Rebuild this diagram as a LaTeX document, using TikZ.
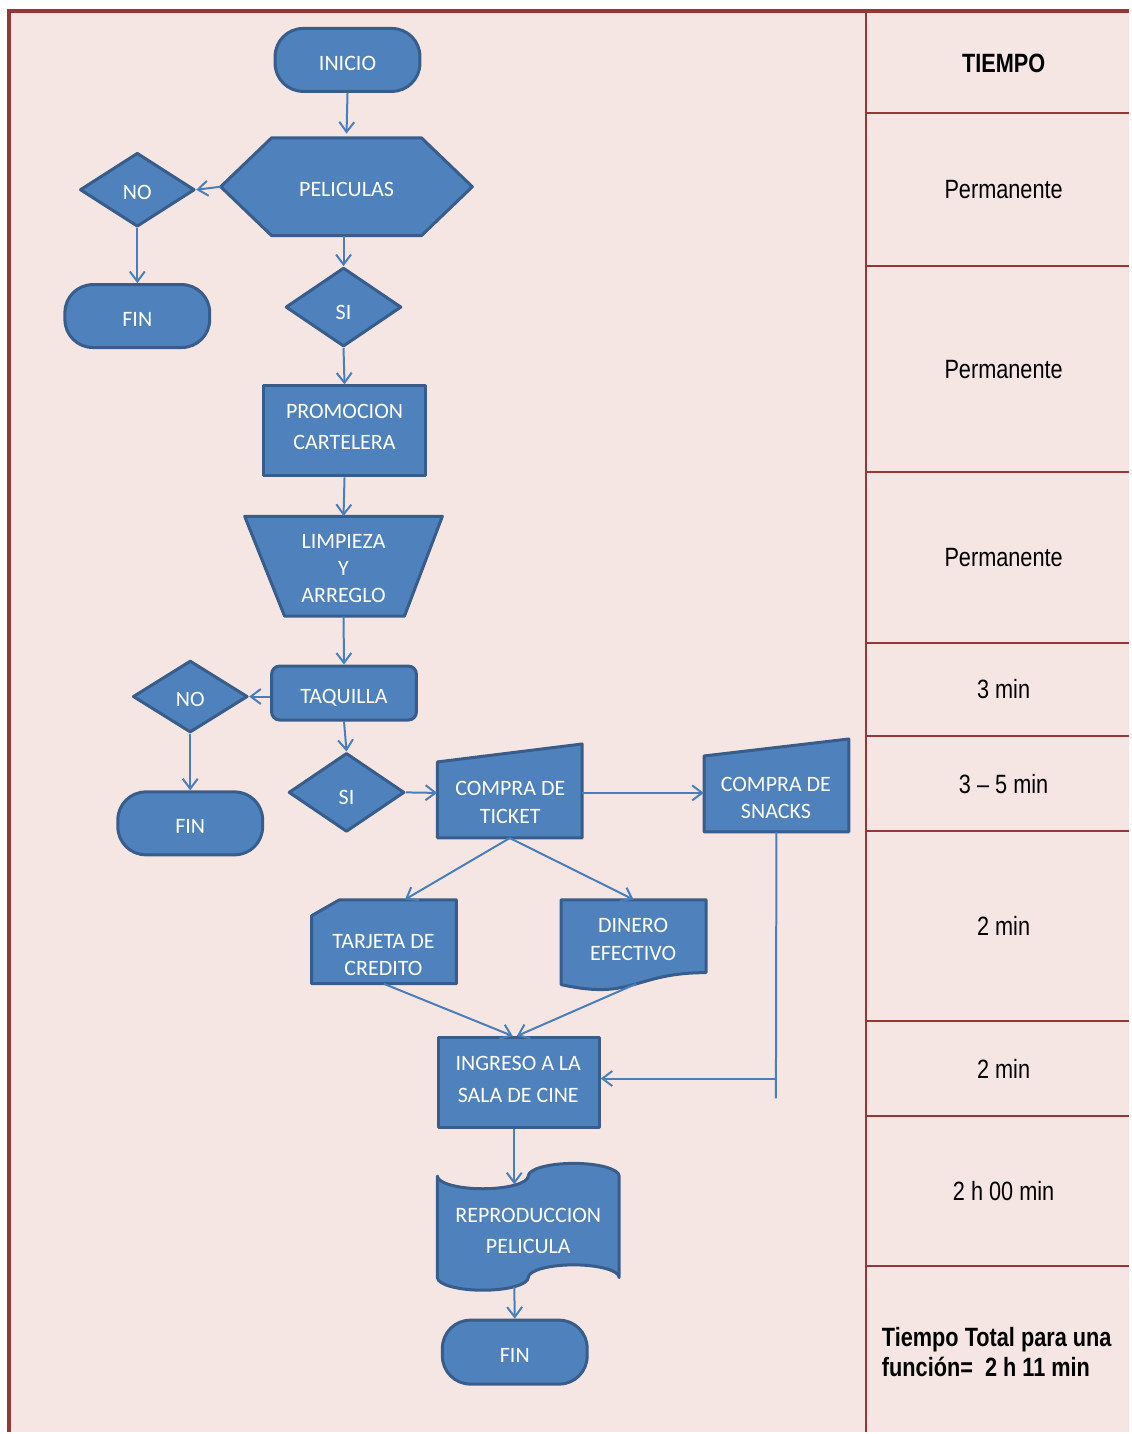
\documentclass[tikz,border=0pt]{standalone}
\usepackage{fontspec}
\setmainfont{Carlito}
\newfontfamily\tabfont[FakeStretch=0.82]{Liberation Sans}
\usetikzlibrary{shapes.geometric,arrows.meta}
\definecolor{pagebg}{HTML}{F5E6E4}
\definecolor{frame}{HTML}{953735}
\definecolor{boxfill}{HTML}{4F81BD}
\definecolor{boxline}{HTML}{385D8A}
\definecolor{link}{HTML}{4A7EBB}

\begin{document}
\begin{tikzpicture}[x=1pt,y=-1pt,
  every node/.style={inner sep=0pt},
  flowtxt/.style={text=white,font=\fontsize{22}{27}\selectfont,align=center},
  oneline/.style={text height=20.5pt,text depth=0pt},
  shapeline/.style={fill=boxfill,draw=boxline,line width=3pt,line join=round},
  term/.style={shapeline,flowtxt,oneline,rectangle,rounded corners=28pt,minimum width=145pt,minimum height=63pt},
  decision/.style={shapeline,flowtxt,oneline,diamond,minimum width=116pt,minimum height=76pt},
  process/.style={shapeline,rectangle,minimum width=162pt,minimum height=90pt},
  anchorbox/.style={rectangle,draw=none},
  conn/.style={draw=link,line width=2pt,-{Straight Barb[length=10pt,width=15pt]}},
  plainconn/.style={draw=link,line width=2pt},
  tabline/.style={draw=frame,line width=2pt},
  tabtxt/.style={font=\tabfont\fontsize{26.5}{30}\selectfont,text=black},
  tabbold/.style={font=\tabfont\bfseries\fontsize{26.5}{30}\selectfont,text=black}
]
% page and frame
\fill[white] (0,0) rectangle (1131,1434);
\fill[pagebg] (9,11) rectangle (1131,1434);

% time column
\draw[tabline] (867.5,11) -- (867.5,1434);
\foreach \yy in {113,266,473,644,737,832,1022,1118,1268}
  \draw[tabline] (867.5,\yy) -- (1131,\yy);
\draw[draw=frame,line width=4pt] (9.2,1434) -- (9.2,11.3) -- (1131,11.3);

\node[tabbold] (t0) at (1005,63) {TIEMPO};
\node[tabtxt] (t1) at (1005,190) {Permanente};
\node[tabtxt] (t2) at (1005,370) {Permanente};
\node[tabtxt] (t3) at (1005,558) {Permanente};
\node[tabtxt] (t4) at (1005,690) {3 min};
\node[tabtxt] (t5) at (1005,785) {3 – 5 min};
\node[tabtxt] (t6) at (1005,927) {2 min};
\node[tabtxt] (t7) at (1005,1070) {2 min};
\node[tabtxt] (t8) at (1005,1193) {2 h 00 min};
\node[tabbold,anchor=west,align=left] (t9) at (883,1354) {Tiempo Total para una\\función=~ 2 h 11 min};

% custom outlines
\draw[shapeline] (221,187) -- (272,138) -- (422,138) -- (473,187) -- (422,236) -- (272,236) -- cycle;
\draw[shapeline] (245,517) -- (443,517) -- (405,617) -- (285,617) -- cycle;
\draw[shapeline] (438,763) -- (583,745) -- (583,839) -- (438,839) -- cycle;
\draw[shapeline] (705,757) -- (850,740) -- (850,833) -- (705,833) -- cycle;
\draw[shapeline] (340,901) -- (457,901) -- (457,985) -- (312,985) -- (312,917) -- cycle;
\draw[shapeline] (562,901) -- (707,901) -- (707,974)
  .. controls (634.5,974) and (634.5,1002) .. (562,986) -- cycle;
\draw[shapeline] (438,1177.7)
  .. controls (438,1184.7) and (458.4,1190.4) .. (483.5,1190.4)
  .. controls (508.6,1190.4) and (529,1184.7) .. (529,1177.7)
  .. controls (529,1170.7) and (549.4,1165) .. (574.5,1165)
  .. controls (599.6,1165) and (620,1170.7) .. (620,1177.7)
  -- (620,1279.3)
  .. controls (620,1272.3) and (599.6,1266.6) .. (574.5,1266.6)
  .. controls (549.4,1266.6) and (529,1272.3) .. (529,1279.3)
  .. controls (529,1286.3) and (508.6,1292) .. (483.5,1292)
  .. controls (458.4,1292) and (438,1286.3) .. (438,1279.3) -- cycle;

% shapes
\node[term] (inicio) at (348,60) {INICIO};
\node[anchorbox,flowtxt,oneline,minimum width=252pt,minimum height=98pt] (pel) at (347,187) {PELICULAS};
\node[decision,minimum width=115pt,minimum height=74pt] (no1) at (137.5,190) {NO};
\node[term] (fin1) at (137.5,316.5) {FIN};
\node[decision,minimum height=79pt,text height=24.5pt] (si1) at (344,307.5) {SI};
\node[process] (promo) at (345,431.5) {};
\node[anchorbox,minimum width=198pt,minimum height=100pt] (limp) at (344,567) {};
\node[shapeline,flowtxt,oneline,rectangle,rounded corners=8pt,minimum width=145pt,minimum height=54pt] (taq) at (344.5,694) {TAQUILLA};
\node[decision,minimum width=115pt,minimum height=72pt] (no2) at (190.5,697.5) {NO};
\node[term] (fin2) at (190.5,824.5) {FIN};
\node[decision,minimum height=79pt,text height=24.5pt] (si2) at (347,793.5) {SI};
\node[anchorbox,minimum width=145pt,minimum height=90pt] (ticket) at (510.5,794) {};
\node[anchorbox,minimum width=145pt,minimum height=78pt] (snacks) at (777.5,794) {};
\node[anchorbox,minimum width=145pt,minimum height=84pt] (tarjeta) at (384.5,943) {};
\node[anchorbox,minimum width=145pt,minimum height=84pt] (dinero) at (634.5,943) {};
\node[process,minimum width=161pt] (ingreso) at (519.5,1084) {};
\node[anchorbox,minimum width=182pt,minimum height=127pt] (repro) at (529,1228.5) {};
\node[term,minimum height=64pt] (fin3) at (515.5,1354) {FIN};

% multi-line labels
\node[flowtxt] (promo-t) at (345,427.5) {PROMOCION\\[4pt]CARTELERA};
\node[flowtxt] (limp-t) at (344,569) {LIMPIEZA\\Y\\ARREGLO};
\node[flowtxt] (ticket-t) at (511,804) {COMPRA DE\\[1pt]TICKET};
\node[flowtxt] (snacks-t) at (777,799) {COMPRA DE\\SNACKS};
\node[flowtxt] (tarjeta-t) at (384,956) {TARJETA DE\\CREDITO};
\node[flowtxt] (dinero-t) at (634,941) {DINERO\\[1pt]EFECTIVO};
\node[flowtxt] (ingreso-t) at (519,1081) {INGRESO A LA\\[5pt]SALA DE CINE};
\node[flowtxt] (repro-t) at (529,1232.5) {REPRODUCCION\\[4pt]PELICULA};

\coordinate (snk-end) at (777,1100);
\coordinate (snk-join) at (777,1080);
\coordinate (rp-in) at (515,1186);
\coordinate (rp-out) at (515,1289);

% connectors
\draw[conn] (inicio.south) -- ([yshift=4pt]pel.north);
\draw[conn] (pel.west) -- (no1.east);
\draw[conn] (no1.south) -- (fin1.north);
\draw[conn] (si1.north |- pel.south) -- (si1.north);
\draw[conn] (si1.south) -- (promo.north);
\draw[conn] (promo.south) -- (limp.north);
\draw[conn] (limp.south) -- (taq.north);
\draw[conn] (taq.west |- no2.east) -- (no2.east);
\draw[conn] (no2.south) -- (fin2.north);
\draw[conn] (taq.south) -- (si2.north);
\draw[conn] (si2.east) -- (ticket.west);
\draw[conn] (ticket.east) -- (snacks.west);
\draw[conn] (ticket.south) -- ([xshift=21pt]tarjeta.north);
\draw[conn] (ticket.south) -- (dinero.north);
\draw[conn] (tarjeta.south) -- ([xshift=-6pt]ingreso.north);
\draw[conn] ([xshift=2.5pt]dinero.south) -- ([xshift=-2pt]ingreso.north);
\draw[plainconn] (snacks.south) -- (snk-end);
\draw[conn] (snk-join) -- (snk-join -| ingreso.east);
\draw[conn] (rp-in |- ingreso.south) -- (rp-in);
\draw[conn] (rp-out) -- (fin3.north);
\end{tikzpicture}
\end{document}
